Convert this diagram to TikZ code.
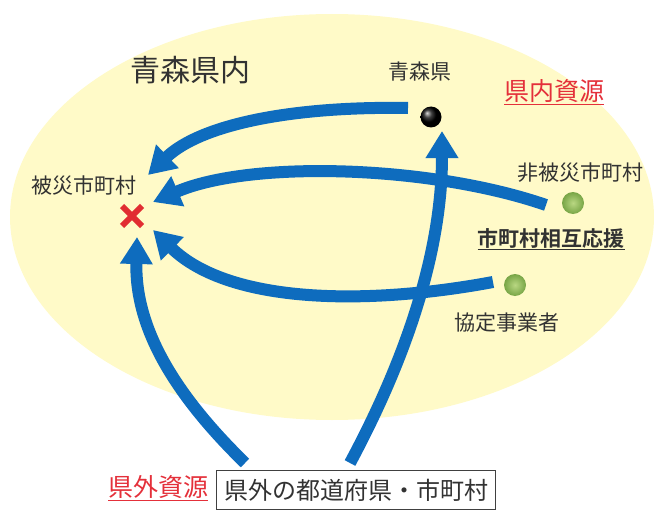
\documentclass[tikz,border=0pt]{standalone}
\usepackage{fontspec}
\newfontfamily\jp{Noto Sans CJK JP}
\newfontfamily\jpb{Noto Sans CJK JP Bold}
\usetikzlibrary{arrows.meta}
\definecolor{ellfill}{RGB}{255,250,200}
\definecolor{arrblue}{RGB}{14,108,190}
\definecolor{txtgray}{RGB}{50,50,50}
\definecolor{resred}{RGB}{228,48,58}
\definecolor{xred}{RGB}{225,45,50}
\definecolor{dotgreen}{RGB}{120,165,70}
\definecolor{dotlight}{RGB}{185,215,130}
\tikzset{
  arr/.style={draw=arrblue, line width=12pt, -{Triangle[width=31pt,length=27pt]}},
  lbl/.style={inner sep=0pt, text=txtgray, font=\jp\fontsize{21}{21}\selectfont},
  reslbl/.style={inner sep=0pt, text=resred, font=\jp\fontsize{25}{25}\selectfont},
  gdot/.style={circle, minimum size=22pt, inner sep=0pt, inner color=dotlight, outer color=dotgreen},
  bdot/.style={circle, minimum size=21pt, inner sep=0pt, ball color=black},
  boxlbl/.style={draw=black!75, line width=1pt, fill=white, inner sep=0pt, minimum width=279pt, minimum height=39pt, text=txtgray, font=\jp\fontsize{24}{24}\selectfont}
}
\begin{document}
\begin{tikzpicture}[x=1pt,y=-1pt]
\useasboundingbox (0,0) rectangle (654,511);
% region
\fill[ellfill] (332,217) ellipse [x radius=322pt, y radius=203pt];
% texts
\node[lbl, font=\jp\fontsize{30}{30}\selectfont] (region) at (190,70) {青森県内};
\node[lbl] (aomori) at (420,72) {青森県};
\node[reslbl] (inres) at (554,92) {\underline{県内資源}};
\node[lbl] (nonaff) at (580,173) {非被災市町村};
\node[lbl, font=\jpb\fontsize{21}{21}\selectfont] (mutual) at (551,239) {\underline{市町村相互応援}};
\node[lbl] (agree) at (507,323) {協定事業者};
\node[lbl] (affected) at (84,186) {被災市町村};
\node[reslbl] (outres) at (158,488) {\underline{県外資源}};
\node[boxlbl] (outbox) at (356,490) {県外の都道府県・市町村};
% dots
\node[bdot] (pref) at (431,117) {};
\node[gdot] (muni) at (573,203) {};
\node[gdot] (biz) at (515,285) {};
% cross
\coordinate (x) at (132,216);
\draw[xred, line width=6pt] ([shift={(-10,-10)}]x) -- ([shift={(10,10)}]x);
\draw[xred, line width=6pt] ([shift={(-10,10)}]x) -- ([shift={(10,-10)}]x);
% arrow endpoints
\coordinate (t1) at (408,108);
\coordinate (h1) at (148,175);
\coordinate (t2) at (546,205);
\coordinate (h2) at (153,202);
\coordinate (t3) at (493,282);
\coordinate (h3) at (153,230);
\coordinate (t4) at (245,463);
\coordinate (h4) at (137,237);
\coordinate (t5) at (350,463);
\coordinate (h5) at (442,131);
% arrows
\draw[arr] (t1) .. controls (290,106) and (200,125) .. (h1);
\draw[arr] (t2) .. controls (430,165) and (250,160) .. (h2);
\draw[arr] (t3) .. controls (370,305) and (230,305) .. (h3);
\draw[arr] (t4) .. controls (165,385) and (135,320) .. (h4);
\draw[arr] (t5) .. controls (400,370) and (442,260) .. (h5);
\end{tikzpicture}
\end{document}
